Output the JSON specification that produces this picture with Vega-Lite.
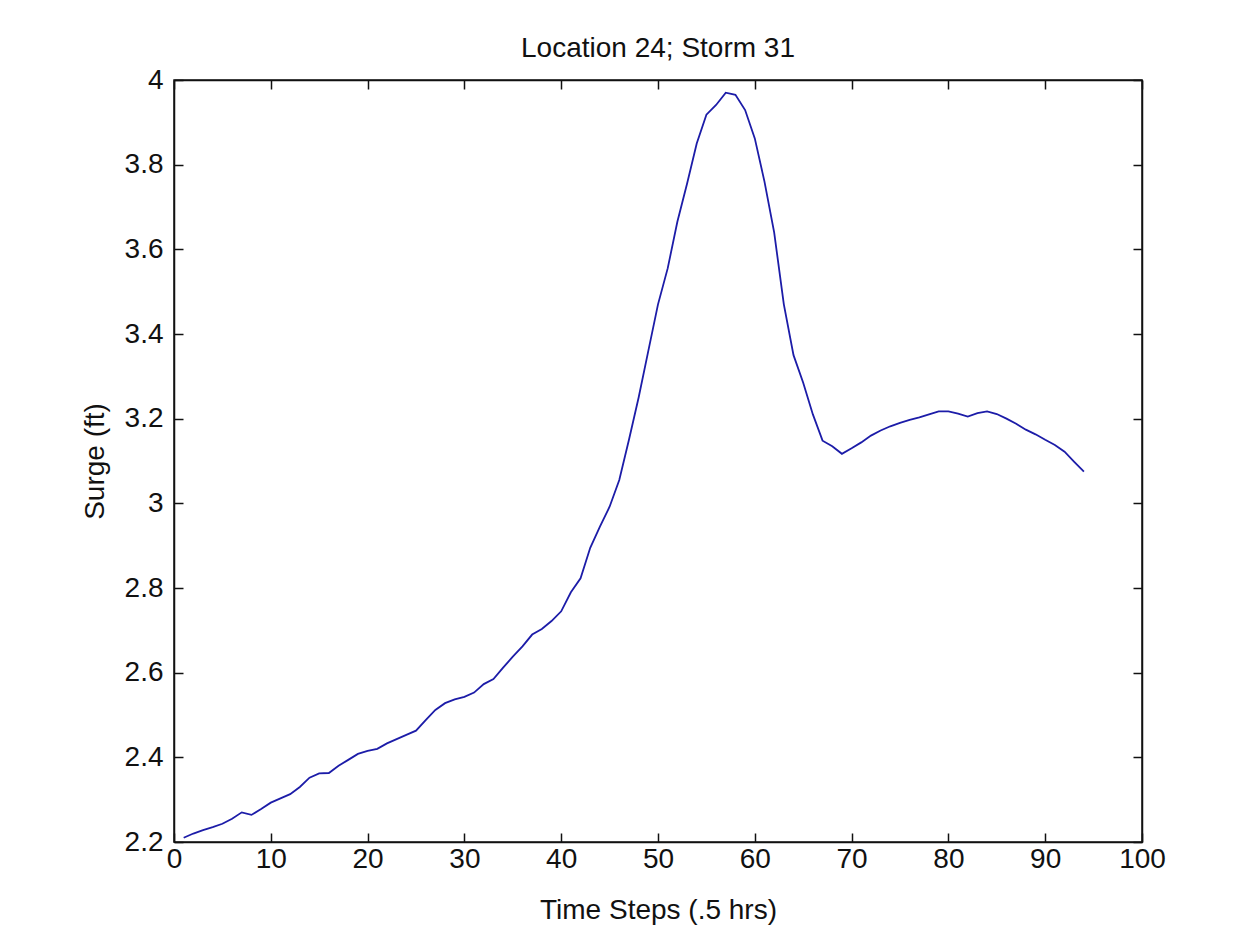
{
  "$schema": "https://vega.github.io/schema/vega-lite/v6.json",
  "autosize": {"type": "none"},
  "width": 968,
  "height": 762,
  "padding": {"left": 174, "top": 80, "right": 117, "bottom": 101},
  "background": "white",
  "title": {"text": "Location 24; Storm 31", "anchor": "middle", "offset": 3, "fontSize": 28, "font": "Liberation Sans", "fontWeight": "normal", "color": "#111"},
  "data": {"values": [
    {"t": 1, "surge": 2.210}, {"t": 2, "surge": 2.220}, {"t": 3, "surge": 2.228}, {"t": 4, "surge": 2.235},
    {"t": 5, "surge": 2.243}, {"t": 6, "surge": 2.255}, {"t": 7, "surge": 2.270}, {"t": 8, "surge": 2.264},
    {"t": 9, "surge": 2.278}, {"t": 10, "surge": 2.293}, {"t": 11, "surge": 2.303}, {"t": 12, "surge": 2.313},
    {"t": 13, "surge": 2.330}, {"t": 14, "surge": 2.352}, {"t": 15, "surge": 2.362}, {"t": 16, "surge": 2.363},
    {"t": 17, "surge": 2.380}, {"t": 18, "surge": 2.394}, {"t": 19, "surge": 2.408}, {"t": 20, "surge": 2.415},
    {"t": 21, "surge": 2.420}, {"t": 22, "surge": 2.433}, {"t": 23, "surge": 2.443}, {"t": 24, "surge": 2.453},
    {"t": 25, "surge": 2.463}, {"t": 26, "surge": 2.488}, {"t": 27, "surge": 2.512}, {"t": 28, "surge": 2.528},
    {"t": 29, "surge": 2.537}, {"t": 30, "surge": 2.543}, {"t": 31, "surge": 2.553}, {"t": 32, "surge": 2.573},
    {"t": 33, "surge": 2.585}, {"t": 34, "surge": 2.612}, {"t": 35, "surge": 2.638}, {"t": 36, "surge": 2.662},
    {"t": 37, "surge": 2.690}, {"t": 38, "surge": 2.703}, {"t": 39, "surge": 2.722}, {"t": 40, "surge": 2.745},
    {"t": 41, "surge": 2.790}, {"t": 42, "surge": 2.823}, {"t": 43, "surge": 2.895}, {"t": 44, "surge": 2.945},
    {"t": 45, "surge": 2.992}, {"t": 46, "surge": 3.055}, {"t": 47, "surge": 3.150}, {"t": 48, "surge": 3.250},
    {"t": 49, "surge": 3.360}, {"t": 50, "surge": 3.470}, {"t": 51, "surge": 3.555}, {"t": 52, "surge": 3.665},
    {"t": 53, "surge": 3.755}, {"t": 54, "surge": 3.850}, {"t": 55, "surge": 3.918}, {"t": 56, "surge": 3.941},
    {"t": 57, "surge": 3.970}, {"t": 58, "surge": 3.965}, {"t": 59, "surge": 3.929}, {"t": 60, "surge": 3.862},
    {"t": 61, "surge": 3.760}, {"t": 62, "surge": 3.640}, {"t": 63, "surge": 3.470}, {"t": 64, "surge": 3.350},
    {"t": 65, "surge": 3.285}, {"t": 66, "surge": 3.210}, {"t": 67, "surge": 3.148}, {"t": 68, "surge": 3.135},
    {"t": 69, "surge": 3.117}, {"t": 70, "surge": 3.130}, {"t": 71, "surge": 3.144}, {"t": 72, "surge": 3.160},
    {"t": 73, "surge": 3.172}, {"t": 74, "surge": 3.182}, {"t": 75, "surge": 3.190}, {"t": 76, "surge": 3.197},
    {"t": 77, "surge": 3.203}, {"t": 78, "surge": 3.210}, {"t": 79, "surge": 3.217}, {"t": 80, "surge": 3.217},
    {"t": 81, "surge": 3.212}, {"t": 82, "surge": 3.205}, {"t": 83, "surge": 3.213}, {"t": 84, "surge": 3.217},
    {"t": 85, "surge": 3.211}, {"t": 86, "surge": 3.200}, {"t": 87, "surge": 3.188}, {"t": 88, "surge": 3.174},
    {"t": 89, "surge": 3.163}, {"t": 90, "surge": 3.150}, {"t": 91, "surge": 3.138}, {"t": 92, "surge": 3.122},
    {"t": 93, "surge": 3.098}, {"t": 94, "surge": 3.075}
  ]},
  "layer": [
    {
      "mark": {"type": "line", "color": "#1c1ca8", "strokeWidth": 1.8},
      "encoding": {
        "x": {"field": "t", "type": "quantitative", "scale": {"domain": [0, 100], "nice": false, "zero": false},
              "axis": {"orient": "bottom", "title": "Time Steps (.5 hrs)", "values": [0,10,20,30,40,50,60,70,80,90,100], "format": "d", "grid": false, "tickSize": -9, "labelPadding": 12, "labelFlush": false, "labelOverlap": false, "titlePadding": 23}},
        "y": {"field": "surge", "type": "quantitative", "scale": {"domain": [2.2, 4], "nice": false, "zero": false},
              "axis": {"orient": "left", "title": "Surge (ft)", "values": [2.2,2.4,2.6,2.8,3,3.2,3.4,3.6,3.8,4], "format": "~g", "grid": false, "tickSize": -9, "labelPadding": 20, "labelFlush": false, "labelOverlap": false, "titlePadding": 15}}
      }
    },
    {
      "mark": {"type": "line", "opacity": 0},
      "encoding": {
        "x": {"field": "t", "type": "quantitative",
              "axis": {"orient": "top", "title": null, "labels": false, "values": [0,10,20,30,40,50,60,70,80,90,100], "grid": false, "tickSize": -9}},
        "y": {"field": "surge", "type": "quantitative",
              "axis": {"orient": "right", "title": null, "labels": false, "values": [2.2,2.4,2.6,2.8,3,3.2,3.4,3.6,3.8,4], "grid": false, "tickSize": -9}}
      }
    }
  ],
  "resolve": {"axis": {"x": "independent", "y": "independent"}},
  "config": {
    "view": {"stroke": "#111", "strokeWidth": 1.5},
    "axis": {
      "domainColor": "#111", "domainWidth": 1.5, "tickColor": "#111", "tickWidth": 1.5,
      "labelFont": "Liberation Sans", "labelFontSize": 28, "labelColor": "#111",
      "titleFont": "Liberation Sans", "titleFontSize": 28, "titleFontWeight": "normal", "titleColor": "#111"
    }
  }
}
